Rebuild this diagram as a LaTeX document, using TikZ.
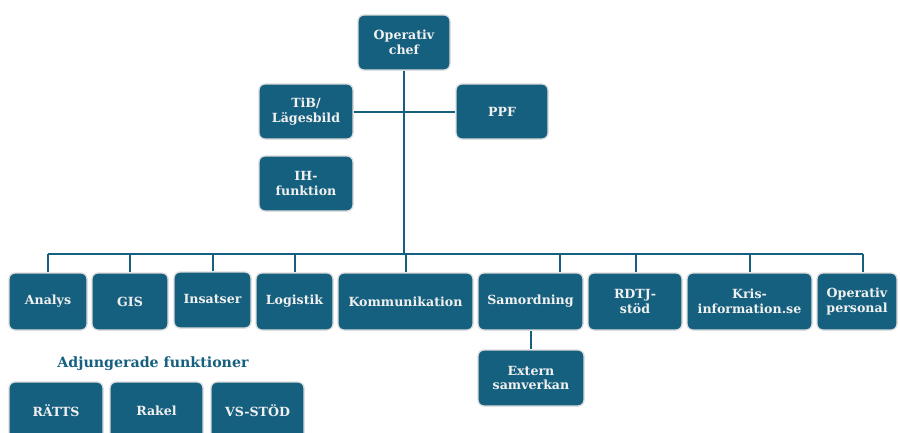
\documentclass[tikz,border=0pt]{standalone}
\usepackage{fontspec}
\setmainfont{DejaVu Serif}
\definecolor{boxblue}{RGB}{22,96,127}
\tikzset{
 unit/.style={draw=black!14, line width=1.3pt, fill=boxblue, rounded corners=6pt,
   text=white!94!black, font=\bfseries\fontsize{12.6}{14.5}\selectfont, align=center, inner sep=0pt},
 link/.style={draw=boxblue, line width=2pt},
 caption/.style={text=boxblue, font=\bfseries\fontsize{14.2}{16}\selectfont, inner sep=0pt}
}
\begin{document}
\begin{tikzpicture}[x=1pt,y=-1pt]
\useasboundingbox (0,0) rectangle (900,432);
% top part
\node[unit, minimum width=92pt, minimum height=55pt] (chef) at (404,42.5) {Operativ\\chef};
\node[unit, minimum width=94pt, minimum height=55pt] (tib) at (306,111.5) {TiB/\\Lägesbild};
\node[unit, minimum width=92pt, minimum height=55pt] (ppf) at (502,111.5) {PPF};
\node[unit, minimum width=94pt, minimum height=55pt] (ih) at (306,183.5) {IH-\\funktion};
% row
\node[unit, minimum width=78pt, minimum height=57pt] (analys) at (48,301.5) {Analys};
\node[unit, minimum width=76pt, minimum height=57pt] (gis) at (130,301.5) {GIS};
\node[unit, minimum width=77pt, minimum height=56pt, text depth=3pt] (insatser) at (212.5,300) {Insatser};
\node[unit, minimum width=77pt, minimum height=57pt] (logistik) at (294.5,301.5) {Logistik};
\node[unit, minimum width=135pt, minimum height=57pt] (komm) at (405.5,301.5) {Kommunikation};
\node[unit, minimum width=105pt, minimum height=57pt] (samord) at (530.5,301.5) {Samordning};
\node[unit, minimum width=94pt, minimum height=57pt] (rdtj) at (635,301.5) {RDTJ-\\stöd};
\node[unit, minimum width=125pt, minimum height=57pt] (kris) at (749.5,301.5) {Kris-\\information.se};
\node[unit, minimum width=80pt, minimum height=57pt] (opers) at (857,301.5) {Operativ\\personal};
\node[unit, minimum width=106pt, minimum height=56pt] (extern) at (531,378) {Extern\\samverkan};
% adjungerade
\node[caption] (adj) at (153,364) {Adjungerade funktioner};
\node[unit, minimum width=94pt, minimum height=58pt] (ratts) at (56,411) {RÄTTS};
\node[unit, minimum width=93pt, minimum height=58pt] (rakel) at (156.5,411) {Rakel};
\node[unit, minimum width=93pt, minimum height=58pt] (vsstod) at (257.5,411) {VS-STÖD};
% connectors
\coordinate (bar) at (404,254);
\draw[link] (tib.east) -- (ppf.west);
\draw[link] (chef.south) -- (bar);
\draw[link] (analys.north |- bar) -- ([xshift=6pt]opers.north |- bar);
\foreach \n/\s in {analys/0, gis/0, insatser/0, logistik/0, komm/0, samord/29.5, rdtj/1, kris/0.5, opers/6}{
  \draw[link] ([xshift=\s pt]\n.north) -- ([xshift=\s pt]\n.north |- bar);
}
\draw[link] (samord.south) -- (samord.south |- extern.north);
\end{tikzpicture}
\end{document}
